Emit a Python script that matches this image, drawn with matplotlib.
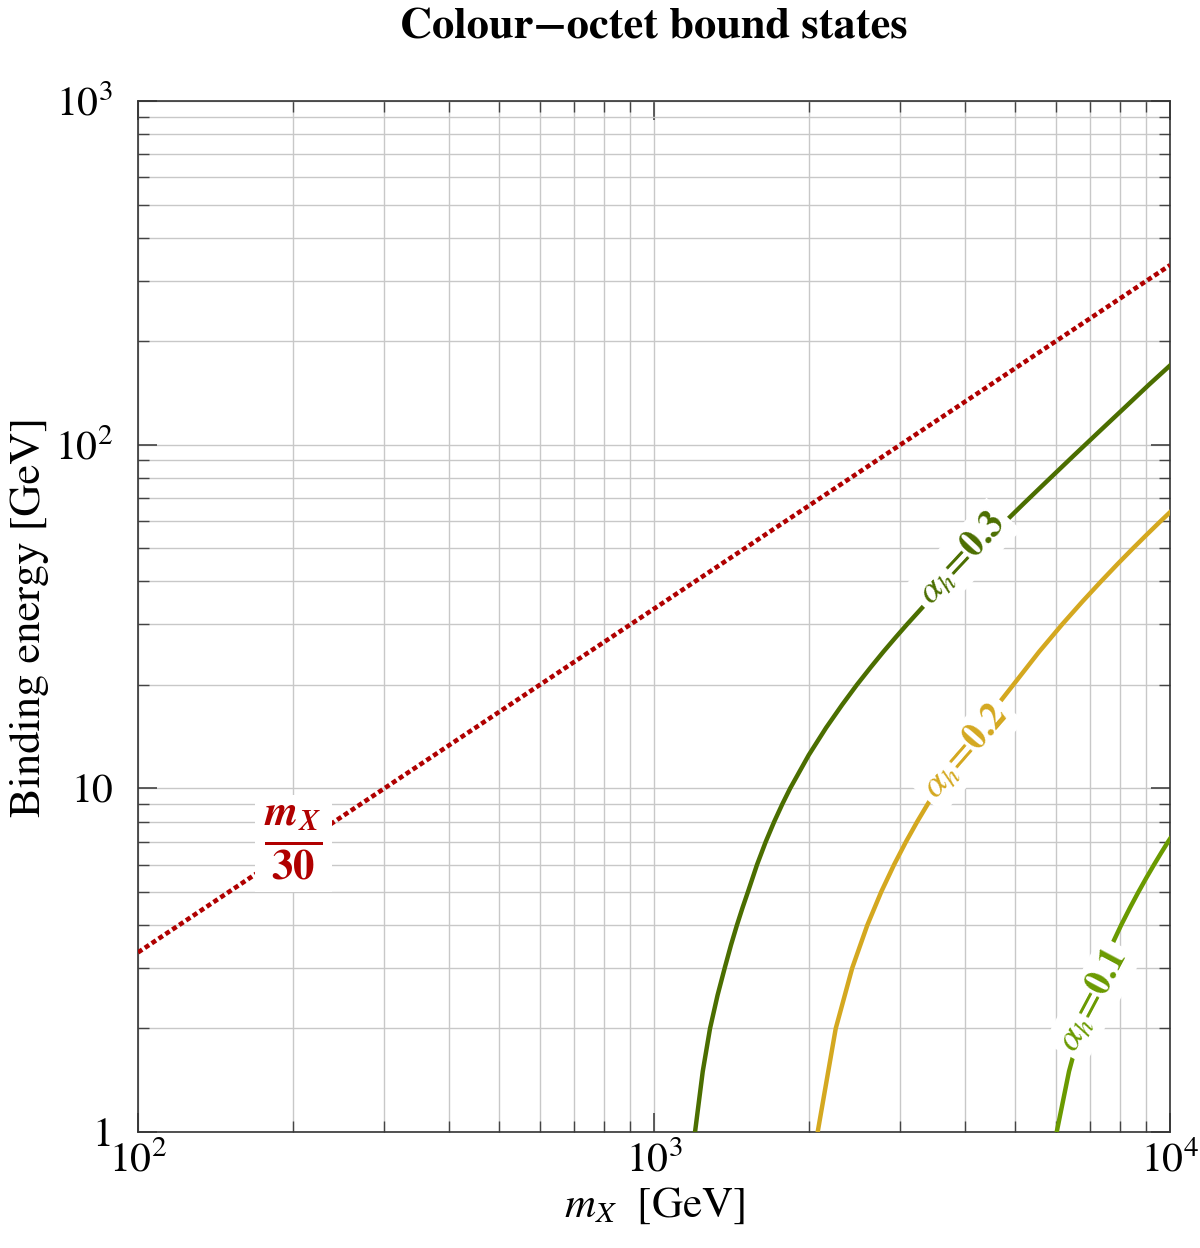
import numpy as np
import matplotlib
matplotlib.use("Agg")
import matplotlib.pyplot as plt

plt.rcParams['font.family'] = ['STIXGeneral', 'DejaVu Serif']
plt.rcParams['mathtext.fontset'] = 'stix'

# values (m_X in GeV, binding energy in GeV)
mass_a03 = [1201, 1243, 1284, 1328, 1371, 1410, 1448, 1485, 1521, 1584, 1647, 1710, 1773, 1836,
            1995, 2155, 2315, 2472, 2630, 2785, 2940, 3093, 3300, 3600, 3954, 4300, 4700, 5200,
            5800, 6500, 7300, 8200, 9100, 10000]
ebind_a03 = [1, 1.5, 2, 2.5, 3, 3.5, 4, 4.5, 5, 6, 7, 8, 9, 10,
             12.5, 15, 17.5, 20, 22.5, 25, 27.5, 30, 33.4, 38.5, 44.6, 50.7, 58.0, 67.3,
             78.8, 92.8, 109.4, 128.9, 149.4, 170]

mass_a02 = [2076, 2250, 2422, 2591, 2757, 2920, 3080, 3237, 3392, 3545, 3848, 3998, 4295, 4633,
            4968, 5580, 6180, 6770, 7350, 7920, 8485, 9045, 9600, 10000]
ebind_a02 = [1, 2, 3, 4, 5, 6, 7, 8, 9, 10, 12, 13, 15, 17.5,
             20, 25, 30, 35, 40, 45, 50, 55, 60, 63.6]

mass_a01 = [6032, 6372, 6710, 7046, 7380, 7712, 8042, 8370, 8690, 9005, 9315, 9620, 9920, 10000]
ebind_a01 = [1, 1.5, 2, 2.5, 3, 3.5, 4, 4.5, 5, 5.5, 6, 6.5, 7, 7.13]

mass_ref = [100, 10000]
ebind_ref = [3.33, 333]

c_a03 = '#4b6e00'
c_a02 = '#d4a820'
c_a01 = '#6a9a00'
c_ref = '#b00000'

fig = plt.figure(figsize=(12, 12.48), dpi=100)
ax = fig.add_axes([0.115, 0.093, 0.86, 0.826])

ax.plot(mass_ref, ebind_ref, color=c_ref, lw=3.3, ls=(0, (1.1, 0.7)), zorder=3)
ax.plot(mass_a03, ebind_a03, color=c_a03, lw=3.2, zorder=3)
ax.plot(mass_a02, ebind_a02, color=c_a02, lw=3.2, zorder=3)
ax.plot(mass_a01, ebind_a01, color=c_a01, lw=3.2, zorder=3)

ax.set_xscale('log')
ax.set_yscale('log')
ax.set_xlim(100, 1e4)
ax.set_ylim(1, 1e3)

ax.grid(True, which='both', color='#c8c8c8', lw=1.0, zorder=0)
ax.tick_params(which='both', direction='in', top=True, right=True, labelsize=30, color='#444444')
ax.tick_params(which='major', length=14, width=1.2)
ax.tick_params(which='minor', length=8, width=1.0)
ax.tick_params(axis='x', pad=7)
ax.tick_params(axis='y', pad=18)
ax.set_yticks([1, 10, 100, 1000])
ax.set_yticklabels(['1', '10', r'$10^2$', r'$10^3$'])
ax.set_xticks([100, 1000, 10000])
ax.set_xticklabels([r'$10^2$', r'$10^3$', r'$10^4$'])
for s in ax.spines.values():
    s.set_color('#333333')
    s.set_linewidth(1.2)

ax.set_xlabel(r'$m_X$  [GeV]', fontsize=31, labelpad=4)
ax.set_ylabel('Binding energy [GeV]', fontsize=32, labelpad=4)
fig.suptitle('Colour\u2212octet bound states', fontsize=32, fontweight='bold', x=0.545, y=0.993)

box = dict(boxstyle='square,pad=0.15', fc='white', ec='none')
ax.text(3954, 46.6, r'$\alpha_h$=0.3', color=c_a03, fontsize=27, fontweight='bold',
        rotation=47, rotation_mode='anchor', ha='center', va='center', bbox=box, zorder=4)
ax.text(4024, 12.75, r'$\alpha_h$=0.2', color=c_a02, fontsize=27, fontweight='bold',
        rotation=49, rotation_mode='anchor', ha='center', va='center', bbox=box, zorder=4)
ax.text(7093, 2.42, r'$\alpha_h$=0.1', color=c_a01, fontsize=27, fontweight='bold',
        rotation=62, rotation_mode='anchor', ha='center', va='center', bbox=box, zorder=4)
ax.text(200, 6.9, r'$\frac{\mathbfit{m_X}}{\mathbf{30}}$', color=c_ref, fontsize=44,
        ha='center', va='center', bbox=dict(boxstyle='square,pad=0.15', fc='white', ec='none'), zorder=4)

fig.savefig('out.png', dpi=100)
